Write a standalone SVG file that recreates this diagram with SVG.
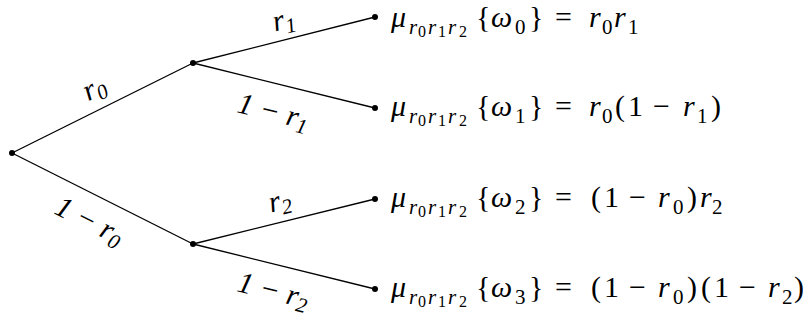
<svg xmlns="http://www.w3.org/2000/svg" width="807" height="322" viewBox="0 0 807 322" font-family="'Liberation Serif','DejaVu Serif',serif">
<style>
.e{stroke:#000;stroke-width:1.3;fill:none}
.d{fill:#000}
text{font-family:"Liberation Serif","DejaVu Serif",serif;fill:#000;font-size:30px}
.i{font-style:italic}
.s{font-size:21px}
.ss{font-size:16px}
.lb{font-size:30px;font-style:italic;text-anchor:middle}
</style>
<g id="connectors">
<line class="e" x1="12" y1="153" x2="193" y2="63"/>
<line class="e" x1="12" y1="153" x2="193" y2="244"/>
<line class="e" x1="193" y1="63" x2="375" y2="17"/>
<line class="e" x1="193" y1="63" x2="375" y2="108"/>
<line class="e" x1="193" y1="244" x2="375" y2="199"/>
<line class="e" x1="193" y1="244" x2="375" y2="289"/>
<text class="lb" transform="translate(95,90) rotate(-26.4)" y="7">r<tspan class="s" dy="5">0</tspan></text>
<text class="lb" transform="translate(89,222) rotate(26.7)" y="8">1 − r<tspan class="s" dy="5">0</tspan></text>
<text class="lb" transform="translate(284,22) rotate(-14.2)" y="7">r<tspan class="s" dy="5">1</tspan></text>
<text class="lb" transform="translate(273,113) rotate(13.9)" y="8">1 − r<tspan class="s" dy="5">1</tspan></text>
<text class="lb" transform="translate(280,203) rotate(-13.9)" y="7">r<tspan class="s" dy="5">2</tspan></text>
<text class="lb" transform="translate(273,292) rotate(13.9)" y="8">1 − r<tspan class="s" dy="5">2</tspan></text>
</g>
<g id="root"><circle class="d" cx="12" cy="153" r="3"/></g>
<g id="n0"><circle class="d" cx="193" cy="63" r="3"/></g>
<g id="n1"><circle class="d" cx="193" cy="244" r="3"/></g>
<g id="leaf0"><circle class="d" cx="375" cy="17" r="3"/>
<text><tspan class="i" x="391" y="27">μ</tspan><tspan class="s i" x="409" y="34">r</tspan><tspan class="ss" x="418" y="37">0</tspan><tspan class="s i" x="428" y="34">r</tspan><tspan class="ss" x="438" y="37">1</tspan><tspan class="s i" x="448" y="34">r</tspan><tspan class="ss" x="459" y="37">2</tspan><tspan x="476" y="27">{</tspan><tspan class="i" x="491" y="27">ω</tspan><tspan class="s" x="515" y="34">0</tspan><tspan x="529" y="27">}</tspan><tspan x="555" y="27">=</tspan><tspan class="i" x="589" y="27">r</tspan><tspan class="s" x="602" y="34">0</tspan><tspan class="i" x="614" y="27">r</tspan><tspan class="s" x="628" y="34">1</tspan></text>
</g>
<g id="leaf1"><circle class="d" cx="375" cy="108" r="3"/>
<text><tspan class="i" x="391" y="116">μ</tspan><tspan class="s i" x="409" y="123">r</tspan><tspan class="ss" x="418" y="126">0</tspan><tspan class="s i" x="428" y="123">r</tspan><tspan class="ss" x="438" y="126">1</tspan><tspan class="s i" x="448" y="123">r</tspan><tspan class="ss" x="459" y="126">2</tspan><tspan x="476" y="116">{</tspan><tspan class="i" x="491" y="116">ω</tspan><tspan class="s" x="515" y="123">1</tspan><tspan x="529" y="116">}</tspan><tspan x="555" y="116">=</tspan><tspan class="i" x="589" y="116">r</tspan><tspan class="s" x="602" y="123">0</tspan><tspan x="615" y="116">(</tspan><tspan x="628" y="116">1</tspan><tspan x="653" y="116">−</tspan><tspan class="i" x="683" y="116">r</tspan><tspan class="s" x="697" y="123">1</tspan><tspan x="711" y="116">)</tspan></text>
</g>
<g id="leaf2"><circle class="d" cx="375" cy="199" r="3"/>
<text><tspan class="i" x="391" y="207">μ</tspan><tspan class="s i" x="409" y="214">r</tspan><tspan class="ss" x="418" y="217">0</tspan><tspan class="s i" x="428" y="214">r</tspan><tspan class="ss" x="438" y="217">1</tspan><tspan class="s i" x="448" y="214">r</tspan><tspan class="ss" x="459" y="217">2</tspan><tspan x="476" y="207">{</tspan><tspan class="i" x="491" y="207">ω</tspan><tspan class="s" x="515" y="214">2</tspan><tspan x="529" y="207">}</tspan><tspan x="555" y="207">=</tspan><tspan x="591" y="207">(</tspan><tspan x="604" y="207">1</tspan><tspan x="629" y="207">−</tspan><tspan class="i" x="658" y="207">r</tspan><tspan class="s" x="673" y="214">0</tspan><tspan x="687" y="207">)</tspan><tspan class="i" x="700" y="207">r</tspan><tspan class="s" x="712" y="214">2</tspan></text>
</g>
<g id="leaf3"><circle class="d" cx="375" cy="289" r="3"/>
<text><tspan class="i" x="391" y="297">μ</tspan><tspan class="s i" x="409" y="304">r</tspan><tspan class="ss" x="418" y="307">0</tspan><tspan class="s i" x="428" y="304">r</tspan><tspan class="ss" x="438" y="307">1</tspan><tspan class="s i" x="448" y="304">r</tspan><tspan class="ss" x="459" y="307">2</tspan><tspan x="476" y="297">{</tspan><tspan class="i" x="491" y="297">ω</tspan><tspan class="s" x="515" y="304">3</tspan><tspan x="529" y="297">}</tspan><tspan x="555" y="297">=</tspan><tspan x="591" y="297">(</tspan><tspan x="604" y="297">1</tspan><tspan x="629" y="297">−</tspan><tspan class="i" x="658" y="297">r</tspan><tspan class="s" x="673" y="304">0</tspan><tspan x="687" y="297">)</tspan><tspan x="701" y="297">(</tspan><tspan x="714" y="297">1</tspan><tspan x="739" y="297">−</tspan><tspan class="i" x="768" y="297">r</tspan><tspan class="s" x="782" y="304">2</tspan><tspan x="794" y="297">)</tspan></text>
</g>
</svg>
